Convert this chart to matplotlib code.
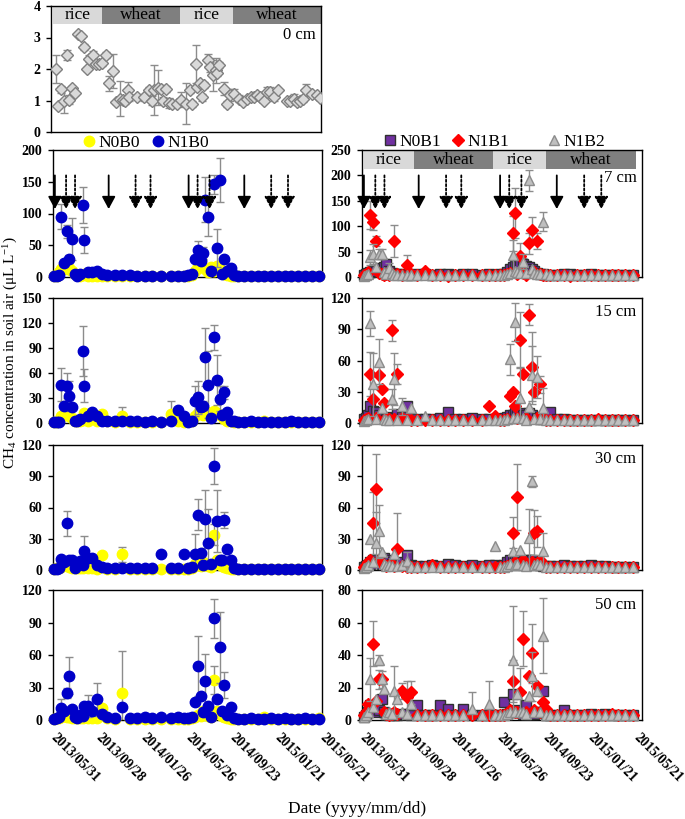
import numpy as np
import matplotlib
matplotlib.use('Agg')
import matplotlib.pyplot as plt
from matplotlib.lines import Line2D
from datetime import date

plt.rcParams['font.family'] = ['Liberation Serif', 'DejaVu Serif']
plt.rcParams['mathtext.fontset'] = 'custom'
plt.rcParams['mathtext.rm'] = 'Liberation Serif'
plt.rcParams['mathtext.it'] = 'Liberation Serif:italic'
plt.rcParams['mathtext.bf'] = 'Liberation Serif:bold'

# ---------------- data ----------------
START = '2013/05/31'
XTICK_LABELS = ['2013/05/31', '2013/09/28', '2014/01/26', '2014/05/26',
                '2014/09/23', '2015/01/21', '2015/05/21']

SEASON_NAMES = ['rice', 'wheat', 'rice', 'wheat']
SEASON_STARTS = ['2013/06/04', '2013/10/14', '2014/05/11', '2014/09/27']
SEASON_ENDS = ['2013/10/14', '2014/05/11', '2014/09/27', '2015/05/21']

ARROW_SOLID = ['2013/06/05', '2013/10/27', '2014/05/29', '2014/10/25']
ARROW_DOTTED = ['2013/07/05', '2013/07/29', '2014/01/07', '2014/02/16',
                '2014/06/22', '2014/07/24', '2015/01/05', '2015/02/19']

# 0 cm (days since start)
DAYS_0CM = [13, 19, 27, 34, 43, 49, 55, 64, 71, 80, 87, 95, 102, 111, 120, 128,
            137, 146, 155, 166, 173, 183, 191, 198, 204, 208, 229, 248, 260, 270,
            275, 285, 292, 299, 307, 315, 322, 337, 346, 359, 370, 377, 387, 390,
            396, 403, 409, 418, 425, 431, 439, 443, 449, 461, 470, 477, 487, 501,
            512, 523, 532, 540, 549, 558, 567, 576, 585, 594, 604, 629, 638, 647,
            656, 665, 673, 680, 696, 709, 716]
CH4_0CM = [2.0, 0.82, 1.35, 1.0, 2.45, 1.03, 1.4, 1.24, 3.1, 3.05,
           2.7, 2.0, 2.33, 2.46, 2.17, 2.17, 2.2, 2.45, 1.54, 1.94,
           0.95, 1.06, 1.03, 1.0, 1.33, 1.1, 1.1, 1.1, 1.33, 1.0,
           1.33, 1.41, 1.38, 1.0, 1.36, 0.92, 0.88, 0.88, 1.03, 0.9,
           1.33, 0.9, 2.17, 1.43, 1.56, 1.1, 1.49, 2.28, 2.07, 1.8,
           1.96, 1.88, 2.12, 1.38, 0.9, 1.17, 1.22, 1.06, 0.95, 1.06,
           1.1, 1.1, 1.17, 1.1, 1.0, 1.27, 1.27, 1.1, 1.33, 1.0,
           1.0, 1.06, 0.95, 1.0, 1.06, 1.33, 1.22, 1.17, 1.09]
ERR_0CM = [0.45, 0.05, 0.1, 0.4, 0.15, 0.15, 0.05, 0.05, 0.05, 0.05,
           0.1, 0.05, 0.1, 0.1, 0.1, 0.1, 0.1, 0.1, 0.25, 0.55,
           0.05, 0.55, 0.1, 0.1, 0.25, 0.1, 0.05, 0.1, 0.1, 0.15,
           0.8, 0.55, 0.1, 0.1, 0.1, 0.15, 0.1, 0.05, 0.25, 0.65,
           0.1, 0.1, 0.6, 0.1, 0.1, 0.1, 0.1, 0.2, 0.15, 0.5,
           0.4, 0.1, 0.1, 0.2, 0.1, 0.2, 0.15, 0.1, 0.05, 0.05,
           0.1, 0.05, 0.1, 0.05, 0.05, 0.15, 0.15, 0.1, 0.05, 0.05,
           0.05, 0.15, 0.1, 0.1, 0.1, 0.2, 0.05, 0.05, 0.05]

# soil-air sampling days (days since start)
DAYS = [4, 10, 17, 22, 29, 38, 44, 52, 58, 64, 72, 80, 84, 93, 105, 118,
        130, 145, 165, 185, 205, 225, 245, 265, 290, 315, 335,
        350, 362, 372, 380, 389, 396, 402, 407, 416, 424, 431, 440, 446, 452, 459, 467, 477, 484,
        495, 512, 530, 548, 566, 584, 602, 620, 638, 656, 674, 692, 712]

# ----- 7 cm -----
N0B0_7 = [1, 2, 8, 12, 15, 12, 14, 10, 5, 3, 2, 3, 4, 2, 2, 1,
          1, 1, 1, 1, 1, 1, 1, 1, 1, 1, 1,
          1, 2, 3, 10, 18, 26, 15, 12, 8, 15, 10, 18, 12, 8, 5, 3, 2, 1,
          1, 1, 1, 1, 1, 1, 1, 1, 1, 1, 1, 1, 1]
N1B0_7 = [2, 2, 3, 95, 22, 72, 29, 60, 4, 2, 5, 113, 58, 8, 8, 10,
          5, 3, 3, 3, 3, 2, 2, 2, 2, 2, 2,
          2, 3, 4, 28, 42, 25, 38, 122, 95, 10, 146, 46, 153, 5, 28, 10, 14, 3,
          2, 1, 1, 1, 1, 1, 1, 1, 2, 1, 1, 1, 1]
N1B0_7_ERR = {3: 20, 4: 5, 5: 10, 6: 5, 7: 33, 11: 28, 12: 20, 30: 5, 31: 15, 32: 5,
              33: 10, 34: 35, 35: 30, 37: 15, 38: 30, 39: 35, 41: 5, 43: 5}
N0B1_7 = [3, 5, 8, 10, 11, 12, 15, 18, 20, 25, 12, 8, 6, 5, 5, 4,
          4, 5, 5, 4, 5, 5, 4, 5, 5, 4, 5,
          4, 5, 6, 10, 15, 20, 22, 22, 25, 25, 22, 20, 15, 12, 8, 6, 5, 4,
          4, 4, 5, 5, 4, 4, 5, 4, 4, 4, 4, 4, 4]
N0B1_7_ERR = {7: 8, 9: 10, 35: 10, 36: 12}
N1B1_7 = [3, 4, 10, 122, 108, 71, 8, 5, 4, 5, 4, 6, 71, 5, 4, 23,
          5, 4, 11, 3, 3, 2, 3, 3, 3, 3, 3,
          3, 3, 4, 5, 8, 86, 126, 5, 42, 8, 3, 66, 93, 10, 71, 5, 3, 3,
          3, 3, 3, 2, 3, 3, 3, 3, 3, 3, 3, 3, 3]
N1B1_7_ERR = {3: 28, 4: 15, 5: 10, 12: 32, 15: 20, 32: 35, 33: 50, 35: 25,
              38: 20, 39: 25, 41: 15}
N1B2_7 = [2, 3, 5, 39, 45, 20, 45, 45, 10, 5, 18, 8, 4, 3, 3, 3,
          3, 3, 3, 3, 3, 3, 3, 3, 3, 3, 3,
          3, 3, 3, 5, 8, 43, 12, 10, 8, 30, 8, 190, 15, 8, 5, 5, 109, 5,
          3, 3, 3, 3, 3, 3, 3, 3, 3, 3, 3, 3, 3]
N1B2_7_ERR = {3: 15, 4: 20, 6: 10, 7: 10, 10: 10, 32: 30, 36: 15, 38: 20, 43: 18}

# ----- 15 cm -----
N0B0_15 = [1, 1, 3, 8, 10, 10, 8, 6, 3, 2, 2, 4, 12, 3, 10, 2,
           11, 2, 1, 9, 1, 1, 1, 1, 1, 11, 2,
           1, 2, 3, 8, 12, 15, 10, 14, 12, 10, 15, 12, 10, 8, 5, 3, 2, 1,
           1, 1, 1, 1, 2, 1, 1, 1, 1, 1, 1, 1, 1]
N0B0_15_ERR = {19: 10, 25: 16}
N1B0_15 = [1, 1, 1, 46, 21, 45, 32, 19, 3, 3, 5, 87, 45, 8, 13, 8,
           3, 2, 2, 2, 2, 2, 1, 2, 1, 2, 16,
           8, 1, 2, 26, 31, 19, 21, 79, 46, 6, 103, 52, 29, 10, 37, 13, 3, 2,
           1, 1, 2, 1, 1, 1, 1, 1, 2, 1, 1, 1, 1]
N1B0_15_ERR = {3: 20, 4: 3, 5: 15, 6: 18, 7: 3, 11: 30, 12: 20, 30: 18, 31: 20,
               32: 5, 33: 5, 34: 35, 35: 40, 37: 15, 38: 30, 39: 15, 41: 8}
N0B1_15 = [4, 5, 8, 16, 12, 11, 8, 6, 5, 4, 5, 6, 5, 9, 6, 16,
           5, 4, 4, 4, 5, 11, 4, 4, 5, 4, 4,
           4, 4, 5, 6, 8, 8, 10, 8, 10, 8, 8, 10, 8, 6, 5, 4, 4, 5,
           11, 4, 4, 3, 3, 3, 3, 3, 3, 3, 3, 3, 3]
N1B1_15 = [3, 4, 5, 47, 23, 5, 46, 33, 19, 5, 4, 89, 4, 47, 5, 4,
           3, 3, 3, 3, 3, 3, 3, 3, 3, 3, 16,
           7, 3, 3, 4, 26, 30, 16, 5, 80, 47, 5, 104, 54, 30, 5, 37, 4, 3,
           3, 3, 3, 3, 3, 3, 3, 4, 3, 3, 3, 3, 3]
N1B1_15_ERR = {3: 21, 6: 10, 11: 10, 13: 10, 35: 27, 38: 10, 39: 33, 42: 8}
N1B2_15 = [2, 3, 4, 96, 37, 4, 59, 14, 4, 3, 3, 23, 42, 3, 16, 3,
           14, 3, 7, 3, 3, 3, 3, 3, 3, 3, 3,
           3, 3, 3, 4, 61, 5, 97, 5, 24, 5, 3, 15, 46, 4, 44, 4, 14, 3,
           3, 3, 3, 3, 3, 3, 3, 3, 3, 3, 3, 3, 3]
N1B2_15_ERR = {3: 12, 4: 30, 6: 22, 11: 10, 12: 25, 14: 8, 31: 15, 33: 18,
               35: 30, 39: 28, 41: 20, 43: 20}

# ----- 30 cm -----
N0B0_30 = [1, 2, 2, 3, 5, 6, 3, 2, 2, 2, 2, 2, 3, 2, 2, 1,
           14, 1, 1, 15, 1, 1, 1, 1, 1, 1, 1,
           1, 1, 2, 6, 5, 4, 8, 5, 4, 3, 34, 10, 6, 4, 3, 2, 1, 1,
           1, 1, 1, 1, 1, 1, 1, 1, 1, 1, 1, 1, 1]
N0B0_30_ERR = {19: 7, 37: 10}
N1B0_30 = [1, 1, 2, 11, 8, 45, 10, 10, 2, 6, 9, 5, 18, 12, 12, 5,
           3, 2, 2, 2, 2, 2, 2, 2, 15, 2, 2,
           15, 2, 3, 15, 53, 16, 5, 49, 26, 6, 100, 47, 10, 10, 48, 20, 10, 2,
           1, 1, 1, 1, 1, 1, 1, 1, 1, 1, 1, 1, 1]
N1B0_30_ERR = {5: 12, 12: 15, 30: 20, 31: 15, 34: 28, 35: 33, 37: 17, 38: 30, 41: 8}
N0B1_30 = [3, 4, 5, 8, 10, 6, 8, 10, 12, 10, 8, 6, 5, 5, 8, 14,
           5, 4, 4, 5, 4, 6, 5, 4, 5, 4, 5,
           5, 4, 5, 8, 10, 10, 12, 10, 8, 8, 10, 10, 10, 8, 6, 5, 4, 4,
           4, 4, 5, 4, 4, 4, 5, 4, 4, 3, 3, 3, 3]
N1B1_30 = [3, 4, 8, 10, 45, 78, 10, 6, 5, 4, 5, 5, 4, 20, 4, 3,
           3, 3, 3, 5, 3, 3, 3, 3, 3, 3, 3,
           3, 3, 3, 4, 5, 36, 8, 70, 6, 10, 5, 6, 8, 36, 37, 10, 4, 3,
           3, 3, 3, 3, 3, 3, 3, 3, 3, 3, 3, 3, 3]
N1B1_30_ERR = {4: 30, 5: 33, 13: 35, 32: 15, 34: 32, 40: 22, 41: 15}
N1B2_30 = [2, 3, 5, 30, 8, 26, 37, 17, 6, 4, 5, 4, 15, 4, 5, 9,
           3, 3, 3, 3, 3, 3, 3, 3, 3, 3, 3,
           23, 3, 3, 4, 6, 18, 5, 6, 19, 5, 4, 31, 85, 5, 6, 5, 18, 3,
           3, 3, 3, 3, 3, 3, 3, 3, 3, 3, 3, 3, 3]
N1B2_30_ERR = {5: 30, 6: 25, 15: 8, 38: 28, 39: 5, 43: 18}

# ----- 50 cm -----
N0B0_50 = [1, 2, 2, 3, 4, 3, 3, 2, 2, 2, 2, 2, 3, 2, 2, 2,
           11, 2, 1, 25, 1, 1, 1, 1, 1, 1, 1,
           1, 1, 2, 3, 5, 4, 8, 6, 4, 3, 37, 8, 6, 4, 3, 2, 1, 1,
           1, 1, 1, 1, 3, 1, 1, 1, 1, 1, 1, 1, 2]
N0B0_50_ERR = {19: 39, 37: 13}
N1B0_50 = [1, 2, 3, 11, 8, 25, 41, 10, 3, 2, 5, 4, 13, 13, 8, 19,
           6, 3, 2, 12, 2, 2, 3, 2, 3, 2, 3,
           2, 2, 3, 17, 50, 22, 7, 36, 13, 3, 94, 19, 67, 8, 32, 5, 12, 2,
           1, 1, 2, 1, 1, 2, 1, 2, 1, 1, 2, 1, 1]
N1B0_50_ERR = {3: 8, 5: 5, 6: 17, 13: 10, 15: 15, 31: 28, 34: 25, 37: 18, 39: 33, 41: 12}
N0B1_50 = [2, 3, 5, 9, 8, 5, 6, 13, 5, 4, 3, 4, 3, 3, 4, 4,
           3, 9, 3, 3, 9, 7, 3, 7, 3, 3, 3,
           3, 3, 11, 4, 5, 16, 5, 6, 5, 4, 9, 4, 4, 4, 5, 5, 18, 3,
           3, 3, 6, 3, 3, 3, 4, 3, 4, 3, 3, 3, 3]
N1B1_50 = [3, 5, 10, 8, 47, 12, 25, 25, 5, 4, 3, 4, 5, 4, 18, 14,
           17, 3, 3, 3, 3, 3, 3, 3, 3, 3, 3,
           3, 3, 3, 4, 6, 24, 5, 5, 17, 50, 5, 27, 41, 6, 21, 5, 11, 7,
           3, 3, 3, 3, 3, 3, 3, 3, 3, 4, 3, 3, 3]
N1B1_50_ERR = {4: 14, 6: 6, 14: 5, 15: 10, 16: 7, 32: 13, 35: 15, 36: 17, 39: 18}
N1B2_50 = [2, 3, 5, 25, 8, 13, 37, 25, 19, 4, 5, 4, 18, 13, 5, 4,
           10, 3, 3, 3, 3, 3, 3, 3, 7, 3, 10,
           3, 3, 3, 4, 5, 37, 5, 16, 5, 5, 4, 15, 27, 5, 18, 5, 52, 3,
           3, 3, 3, 3, 3, 3, 3, 3, 3, 3, 3, 3, 3]
N1B2_50_ERR = {3: 13, 6: 3, 7: 5, 12: 15, 24: 10, 26: 14, 32: 33, 39: 15, 43: 23}

# ---------------- helpers ----------------
def to_day(s):
    y, m, d = map(int, s.split('/'))
    y0, m0, d0 = map(int, START.split('/'))
    return (date(y, m, d) - date(y0, m0, d0)).days


W, H = 685, 819
fig = plt.figure(figsize=(W / 100, H / 100), dpi=100)


def add_ax(x0, y0, x1, y1):
    return fig.add_axes([x0 / W, 1 - y1 / H, (x1 - x0) / W, (y1 - y0) / H])


XTICKS = [to_day(s) for s in XTICK_LABELS]

STY = {
    'N0B0': dict(marker='o', mfc='#ffff00', mec='#ffff00', ms=7.5),
    'N1B0': dict(marker='o', mfc='#0000c8', mec='#0000c8', ms=7.5),
    'N0B1': dict(marker='s', mfc='#7030a0', mec='#303030', ms=6.5),
    'N1B1': dict(marker='D', mfc='#ff0000', mec='#ff0000', ms=6),
    'N1B2': dict(marker='^', mfc='#bfbfbf', mec='#8c8c8c', ms=7.5),
}
ECOL = '#8c8c8c'


def setup(ax, ymax, step, xmax, bottom):
    ax.set_xlim(0, xmax)
    ax.set_ylim(0, ymax)
    yt = np.arange(0, ymax + step / 2, step)
    ax.set_yticks(yt, [f'{v:g}' for v in yt], fontweight='bold', fontsize=10)
    ax.set_xticks(XTICKS)
    if bottom:
        ax.set_xticklabels(XTICK_LABELS, rotation=-45, ha='left', va='center',
                           rotation_mode='anchor', fontweight='bold', fontsize=10)
    else:
        ax.set_xticklabels([])
    ax.tick_params(axis='y', direction='out', length=3.5, width=1, pad=4)
    ax.tick_params(axis='x', length=0, pad=11)
    for sp in ax.spines.values():
        sp.set_linewidth(1.0)
        sp.set_color('black')


def series(ax, y, err, key, z, x=None):
    x = np.asarray(DAYS if x is None else x, float)
    y = np.asarray(y, float)
    if err:
        idx = sorted(err)
        ax.errorbar(x[idx], y[idx], yerr=[err[i] for i in idx], fmt='none',
                    ecolor=ECOL, elinewidth=1, capsize=3, capthick=1, zorder=z - 0.5)
    ax.plot(x, y, ls='none', mew=1, zorder=z, clip_on=False, **STY[key])


def bands(ax, frac):
    for name, s, e in zip(SEASON_NAMES, SEASON_STARTS, SEASON_ENDS):
        x0, x1 = to_day(s), to_day(e)
        ax.axvspan(x0, x1, ymin=frac, ymax=1, facecolor='#d9d9d9' if name == 'rice' else '#7f7f7f',
                   edgecolor='none', zorder=1)
        ax.text((x0 + x1) / 2, (frac + 1) / 2, name, transform=ax.get_xaxis_transform(),
                ha='center', va='center', fontsize=12.5, zorder=2)


def arrows(ax):
    hs = '-|>,head_length=0.5,head_width=0.27'
    for lst, ls in ((ARROW_SOLID, '-'), (ARROW_DOTTED, (0, (1.2, 1.2)))):
        for s in lst:
            d = to_day(s)
            ax.annotate('', xy=(d, 0.535), xytext=(d, 0.80),
                        xycoords=('data', 'axes fraction'), textcoords=('data', 'axes fraction'),
                        arrowprops=dict(arrowstyle=hs, color='black', lw=1.3, linestyle=ls,
                                        mutation_scale=15, shrinkA=0, shrinkB=0), zorder=6)


def depth(ax, txt, yfrac):
    ax.text(0.98, yfrac, txt, transform=ax.transAxes, ha='right', va='center', fontsize=12)


# ---------------- 0 cm ----------------
ax0 = add_ax(51, 6, 321, 132)
setup(ax0, 4, 1, 720, False)
bands(ax0, 0.855)
x0c = np.asarray(DAYS_0CM, float)
ax0.errorbar(x0c, CH4_0CM, yerr=ERR_0CM, fmt='none', ecolor=ECOL, elinewidth=1,
             capsize=3, capthick=1, zorder=2.5)
ax0.plot(x0c, CH4_0CM, ls='none', marker='D', mfc='#d9d9d9', mec='#808080', ms=6.5,
         mew=1, zorder=3)
depth(ax0, '0 cm', 0.77)

# ---------------- depth panels ----------------
ROWS = [(150, 277), (298, 423), (445, 570), (590, 720)]
LEFT_LIM = [(200, 50), (150, 30), (120, 30), (120, 30)]
RIGHT_LIM = [(250, 50), (120, 30), (120, 30), (80, 20)]
LEFT_DATA = [(N0B0_7, {}, N1B0_7, N1B0_7_ERR),
             (N0B0_15, N0B0_15_ERR, N1B0_15, N1B0_15_ERR),
             (N0B0_30, N0B0_30_ERR, N1B0_30, N1B0_30_ERR),
             (N0B0_50, N0B0_50_ERR, N1B0_50, N1B0_50_ERR)]
RIGHT_DATA = [(N0B1_7, N0B1_7_ERR, N1B1_7, N1B1_7_ERR, N1B2_7, N1B2_7_ERR),
              (N0B1_15, {}, N1B1_15, N1B1_15_ERR, N1B2_15, N1B2_15_ERR),
              (N0B1_30, {}, N1B1_30, N1B1_30_ERR, N1B2_30, N1B2_30_ERR),
              (N0B1_50, {}, N1B1_50, N1B1_50_ERR, N1B2_50, N1B2_50_ERR)]
DEPTHS = ['7 cm', '15 cm', '30 cm', '50 cm']

for i, (top, bot) in enumerate(ROWS):
    last = i == len(ROWS) - 1
    axl = add_ax(53, top, 322, bot)
    setup(axl, *LEFT_LIM[i], 720, last)
    a, ea, b, eb = LEFT_DATA[i]
    series(axl, a, ea, 'N0B0', 3)
    series(axl, b, eb, 'N1B0', 4)

    axr = add_ax(362, top, 642, bot)
    setup(axr, *RIGHT_LIM[i], 736, last)
    p, ep, r, er, g, eg = RIGHT_DATA[i]
    series(axr, p, ep, 'N0B1', 3)
    series(axr, r, er, 'N1B1', 4)
    series(axr, g, eg, 'N1B2', 5)
    if i == 0:
        arrows(axl)
        arrows(axr)
        bands(axr, 0.85)
        depth(axr, DEPTHS[i], 0.78)
    else:
        depth(axr, DEPTHS[i], 0.885)

# ---------------- legends ----------------
def legend_item(key, label, xpx, ypx):
    h = Line2D([], [], ls='none', mew=1, label=label, **STY[key])
    fig.legend(handles=[h], loc='center left', bbox_to_anchor=(xpx / W, 1 - ypx / H),
               frameon=False, fontsize=12.5, handlelength=0.9, handletextpad=0.1,
               borderpad=0, borderaxespad=0)

for key, xpx, ypx in (('N0B0', 81, 143), ('N1B0', 150, 143),
                      ('N0B1', 382, 142), ('N1B1', 450, 142), ('N1B2', 546, 142)):
    legend_item(key, key, xpx, ypx)

# ---------------- axis titles ----------------
fig.text(10.5 / W, 1 - 352 / H, r'CH$_4$ concentration in soil air (μL L$^{-1}$)',
         rotation=90, ha='center', va='center', fontsize=11)
fig.text(357 / W, 1 - 809 / H, 'Date (yyyy/mm/dd)', ha='center', va='center', fontsize=12.5)

fig.savefig('out.png', dpi=100)
